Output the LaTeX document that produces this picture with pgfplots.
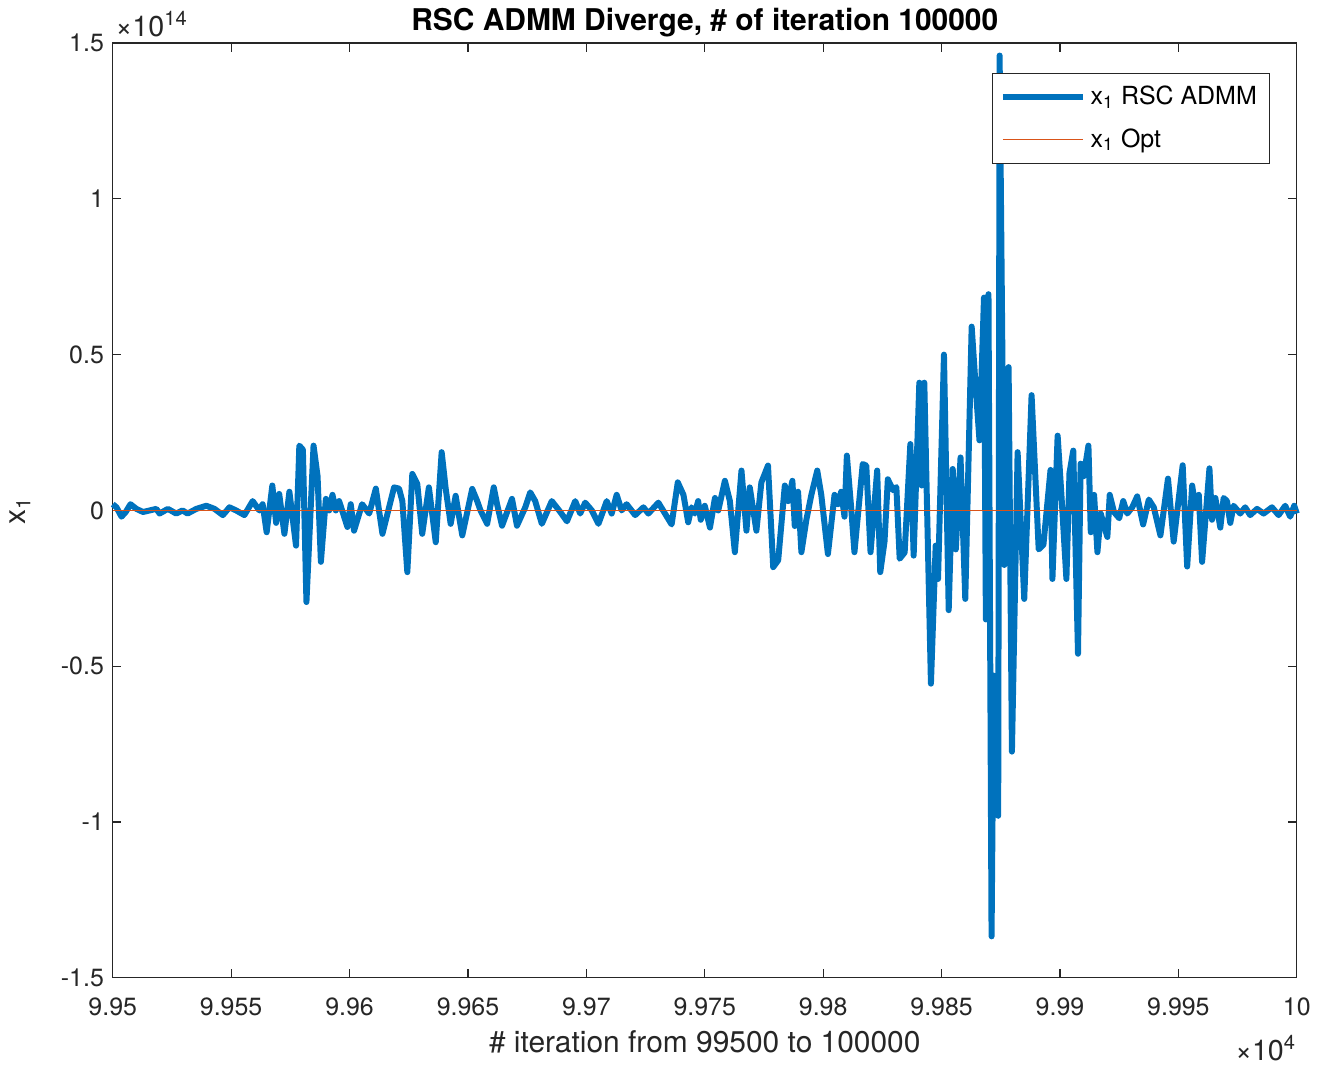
\documentclass[border=0pt]{standalone}
\usepackage{fontspec}
\setmainfont{TeX Gyre Heros}
\usepackage{pgfplots}
\pgfplotsset{compat=1.18}

\definecolor{mblue}{RGB}{0,114,189}
\definecolor{morange}{RGB}{217,83,25}
\definecolor{maxis}{RGB}{38,38,38}

% x_1 of RSC ADMM, values in units of 1e13
\pgfplotstableread{
it y
99500 0.2
99501.6 0.1
99503.7 -0.2
99505.5 -0.05
99507.5 0.2
99510 0.05
99512.8 -0.05
99515.6 0.0
99518.4 0.05
99519.8 -0.1
99523.3 0.05
99526.8 -0.1
99529.5 0.0
99531.6 -0.1
99535.3 0.05
99539.5 0.15
99543 0.05
99546.5 -0.15
99549.3 0.1
99552.1 0.0
99555.6 -0.15
99559.1 0.3
99561.9 0.0
99563.3 0.2
99565 -0.7
99567.4 0.8
99569 -0.4
99570.3 0.53
99572.5 -0.75
99574.6 0.6
99577.4 -1.13
99578.8 2.08
99580.3 1.95
99581.8 -2.94
99584.8 2.08
99586.5 1.1
99587.9 -1.65
99590 0.37
99591.4 0.0
99592.8 0.5
99594.2 0.0
99595.6 0.3
99599.1 -0.53
99600.5 0.2
99601.9 -0.65
99605.3 0.2
99608.3 -0.1
99611.1 0.7
99613.9 -0.75
99618.8 0.74
99620.9 0.7
99622.3 0.3
99624.4 -1.98
99626.5 1.17
99628.6 0.85
99630.7 -0.75
99633.5 0.74
99636.4 -1.02
99638.9 1.87
99640.6 0.7
99642.7 -0.43
99644.8 0.47
99647.6 -0.8
99651.8 0.69
99653.9 0.3
99655.3 0.0
99658.1 -0.43
99660.9 0.74
99662.3 0.2
99664.4 -0.49
99668.6 0.37
99670.7 -0.49
99674.2 0.1
99676.3 0.58
99678.4 0.3
99681.2 -0.43
99685.4 0.3
99689 -0.05
99691.8 -0.35
99695.3 0.3
99697.4 -0.1
99699.5 0.25
99702.3 0.0
99705.1 -0.43
99708.6 0.3
99710.7 -0.1
99712.8 0.5
99714.9 0.0
99717 0.2
99720.6 -0.15
99724.1 0.1
99726.2 -0.1
99730.4 0.25
99736 -0.45
99738.6 0.9
99741 0.5
99743 -0.38
99744.4 0.1
99745.8 -0.1
99747.2 0.3
99748.3 -0.3
99750 0.15
99752.2 -0.55
99754.3 0.4
99755.7 0.0
99758.5 0.95
99760.6 0.3
99762.7 -1.34
99765.5 1.28
99767.6 -0.65
99769 0.74
99771.8 -0.65
99773.9 0.9
99776.7 1.44
99778.9 -1.82
99781 -1.6
99783.8 0.8
99785.2 0.3
99787 0.95
99788 -0.5
99789.4 0.6
99790.8 -1.34
99792.9 -0.3
99795 0.5
99797.5 1.28
99799.2 0.5
99802 -1.4
99804.8 0.5
99806.2 0.2
99807.6 0.6
99809 -0.2
99810 1.76
99811.8 0.1
99813.2 -1.34
99816.7 1.49
99818.2 1.44
99820 -1.34
99822.8 1.28
99824.1 -1.98
99825.9 -1.0
99827.3 1.0
99829.5 0.65
99830.9 0.75
99832.3 -1.55
99834.4 -1.35
99836.8 2.13
99838.2 -1.45
99840.6 4.1
99841.6 0.8
99842.7 4.1
99845.5 -5.56
99847.5 -1.13
99848.5 -2.2
99851 5.0
99853 -3.2
99854.7 1.33
99856 -1.25
99858 1.7
99860 -2.84
99862.7 5.9
99864.5 3.84
99866 2.25
99867.9 6.83
99868.7 -3.5
99869.8 6.94
99871.1 -13.67
99872 -5.3
99873.9 -9.8
99874.5 14.6
99876.5 -1.75
99878.3 4.6
99879.7 -7.74
99882.1 1.87
99884.9 -2.84
99888 3.7
99891 -1.25
99893 -1.1
99894.5 0.1
99896 1.3
99896.8 -2.2
99899 2.4
99900.6 0.5
99902.7 -2.2
99904 1.2
99905.6 1.92
99907.6 -4.6
99908.7 1.5
99910 1.1
99912 2.08
99913 -0.7
99914.4 0.5
99915.8 -1.34
99917.2 -0.1
99918.6 -0.5
99920 -0.85
99921 0.5
99922.8 -0.05
99925 -0.25
99926.7 0.3
99928.4 -0.1
99930.5 0.1
99932.6 0.45
99935.1 -0.45
99937.5 0.35
99939.6 0.1
99942.4 -0.8
99945.6 1.02
99948 -1.0
99951.8 1.45
99953.7 -1.8
99955.8 0.8
99957.2 0.1
99958.6 0.5
99960 -1.65
99963.1 1.35
99964.2 -0.3
99965.6 0.4
99967.7 -0.55
99969.1 0.4
99970.5 0.3
99971.9 -0.4
99973.3 0.15
99976.1 -0.1
99978.2 0.1
99980.3 -0.15
99983.2 0.05
99986 -0.1
99989.5 0.1
99992.3 -0.15
99995.1 0.15
99997.2 -0.2
99998.9 0.15
100000 -0.1
}\admm

\begin{document}
\begin{tikzpicture}
\begin{axis}[
    scale only axis,
    width=474.8pt, height=374.8pt,
    xmin=99500, xmax=100000,
    ymin=-15, ymax=15,
    xtick={99500,99550,...,100000},
    xticklabels={9.95,9.955,9.96,9.965,9.97,9.975,9.98,9.985,9.99,9.995,10},
    ytick={-15,-10,-5,0,5,10,15},
    yticklabels={-1.5,-1,-0.5,0,0.5,1,1.5},
    scaled x ticks=false, scaled y ticks=false,
    tick align=inside,
    major tick length=3.4pt,
    axis line style={maxis, line width=0.5pt},
    every tick/.style={maxis, line width=0.5pt},
    tick label style={font=\fontsize{10}{12}\selectfont, text=maxis},
    xticklabel style={anchor=base, yshift=-15pt},
    label style={font=\fontsize{12}{14}\selectfont, text=maxis},
    xlabel={\# iteration from 99500 to 100000},
    ylabel={x\textsubscript{1}},
    xlabel style={at={(rel axis cs:0.5,0)}, anchor=base, yshift=-30pt},
    ylabel style={at={(rel axis cs:-0.078,0.5)}, anchor=center},
    title={RSC ADMM Diverge, \# of iteration 100000},
    title style={font=\bfseries\fontsize{12}{14}\selectfont, at={(rel axis cs:0.5,1)}, anchor=base, yshift=-1pt},
    legend style={at={(1,1)}, anchor=north east, xshift=-10.8pt, yshift=-12pt,
        draw=maxis, line width=0.5pt, font=\fontsize{10}{12}\selectfont,
        inner xsep=3pt, inner ysep=3pt, row sep=4pt, cells={anchor=west}},
    legend image code/.code={\draw[#1] (0pt,0pt) -- (32pt,0pt);},
    clip=false,
]
\addplot[mblue, line width=2.4pt, line join=round] table[x=it, y=y] {\admm};
\addlegendentry{x\textsubscript{1} RSC ADMM}
\addplot[morange, line width=0.6pt] coordinates {(99500,0) (100000,0)};
\addlegendentry{x\textsubscript{1} Opt}
\node[anchor=base west, font=\fontsize{11.5}{13}\selectfont, text=maxis, inner sep=0pt] at (rel axis cs:0,1) [yshift=2.5pt, xshift=1pt] {×10\textsuperscript{14}};
\node[anchor=base east, font=\fontsize{11.5}{13}\selectfont, text=maxis, inner sep=0pt] at (rel axis cs:1,0) [yshift=-33pt] {×10\textsuperscript{4}};
\end{axis}
\path (current axis.south west) ++(-45.2pt,-36.8pt);
\path (current axis.north east) ++(7.6pt,17.2pt);
\end{tikzpicture}
\end{document}
